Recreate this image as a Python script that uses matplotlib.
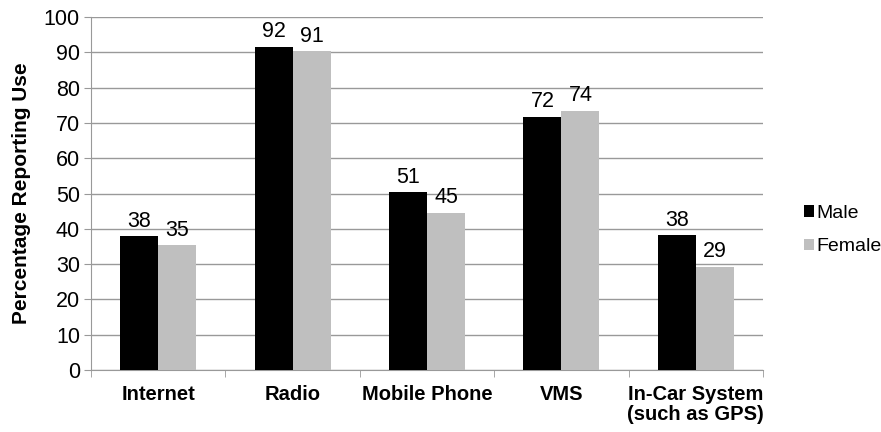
import matplotlib
matplotlib.use("Agg")
import matplotlib.pyplot as plt
import numpy as np

categories = ["Internet", "Radio", "Mobile Phone", "VMS", "In-Car System\n(such as GPS)"]
male = [38.0, 91.6, 50.5, 71.8, 38.3]
female = [35.4, 90.3, 44.6, 73.5, 29.3]
male_labels = ["38", "92", "51", "72", "38"]
female_labels = ["35", "91", "45", "74", "29"]
yticks = [0, 10, 20, 30, 40, 50, 60, 70, 80, 90, 100]

plt.rcParams['font.family'] = ['Liberation Sans', 'DejaVu Sans']

fig = plt.figure(figsize=(8.81, 4.32), dpi=100)
ax = fig.add_axes([91/881, 1-370/432, (763-91)/881, (370-17)/432])

x = np.arange(len(categories))
w = 0.283
bm = ax.bar(x - w/2, male, w, color='black', label='Male', zorder=3)
bf = ax.bar(x + w/2, female, w, color='#bfbfbf', label='Female', zorder=3)

for xi, v, t in zip(x - w/2, male, male_labels):
    ax.annotate(t, (xi, v), xytext=(0, 3), textcoords='offset points',
                ha='center', va='bottom', fontsize=15.5)
for xi, v, t in zip(x + w/2, female, female_labels):
    ax.annotate(t, (xi, v), xytext=(0, 3), textcoords='offset points',
                ha='center', va='bottom', fontsize=15.5)

ax.set_xlim(-0.5, len(categories) - 0.5)
ax.set_ylim(0, 100)
ax.set_yticks(yticks)
ax.set_yticklabels([str(t) for t in yticks], fontsize=15.5)
ax.yaxis.grid(True, color='#999999', linewidth=1, zorder=0)
ax.tick_params(axis='y', length=5, color='#999999', pad=3)

ax.set_xticks(x)
ax.set_xticklabels(categories, fontsize=14.5, fontweight='bold', linespacing=1.05)
ax.tick_params(axis='x', which='major', length=0, pad=11)
ax.set_xticks(np.arange(len(categories) + 1) - 0.5, minor=True)
ax.tick_params(axis='x', which='minor', length=5, color='#999999')

for s in ['top', 'right']:
    ax.spines[s].set_visible(False)
for s in ['left', 'bottom']:
    ax.spines[s].set_color('#999999')

ax.set_ylabel('Percentage Reporting Use', fontsize=15, fontweight='bold', labelpad=9)

fig.legend(handles=[bm, bf], loc='center left', bbox_to_anchor=(796/881, 1-230/432),
           frameon=False, fontsize=14, handlelength=0.55, handleheight=0.55,
           handletextpad=0.1, labelspacing=0.85, borderaxespad=0)

fig.savefig('out.png', dpi=100)
